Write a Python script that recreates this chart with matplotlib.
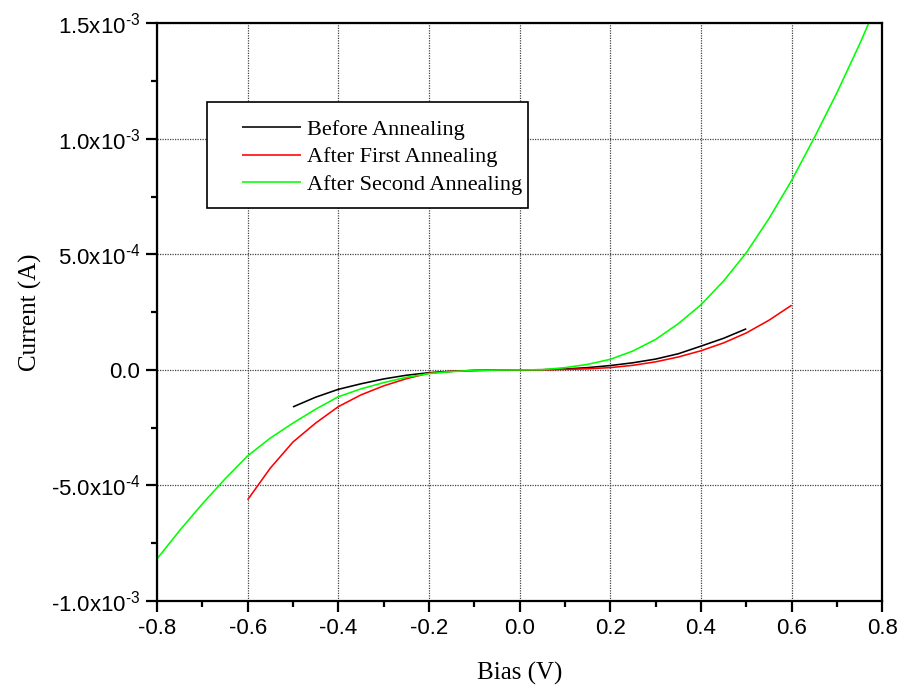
import matplotlib
matplotlib.use("Agg")
import matplotlib.pyplot as plt
from matplotlib.ticker import MultipleLocator
from matplotlib.legend_handler import HandlerLine2D
from matplotlib.patches import Rectangle

plt.rcParams['mathtext.fontset'] = 'custom'
plt.rcParams['mathtext.rm'] = 'Liberation Sans'
plt.rcParams['mathtext.it'] = 'Liberation Sans:italic'
plt.rcParams['mathtext.bf'] = 'Liberation Sans:bold'

# ---- data ----
bias_before = [-0.5, -0.45, -0.4, -0.35, -0.3, -0.25, -0.2, -0.15, -0.1, -0.05, 0.0,
               0.05, 0.1, 0.15, 0.2, 0.25, 0.3, 0.35, 0.4, 0.45, 0.5]
cur_before = [-1.60e-4, -1.18e-4, -8.4e-5, -6.0e-5, -3.9e-5, -2.3e-5, -1.2e-5, -6e-6, -2.5e-6, -5e-7, 0.0,
              1e-6, 4e-6, 1.0e-5, 1.9e-5, 3.1e-5, 4.7e-5, 7.0e-5, 1.03e-4, 1.37e-4, 1.78e-4]

bias_first = [-0.6, -0.55, -0.5, -0.45, -0.4, -0.35, -0.3, -0.25, -0.2, -0.15, -0.1, -0.05, 0.0,
              0.05, 0.1, 0.15, 0.2, 0.25, 0.3, 0.35, 0.4, 0.45, 0.5, 0.55, 0.6]
cur_first = [-5.62e-4, -4.25e-4, -3.12e-4, -2.30e-4, -1.59e-4, -1.08e-4, -6.9e-5, -3.8e-5, -1.4e-5, -6e-6, -2e-6, -3e-7, 0.0,
             5e-7, 2e-6, 5e-6, 1.0e-5, 2.0e-5, 3.5e-5, 5.6e-5, 8.3e-5, 1.17e-4, 1.60e-4, 2.15e-4, 2.80e-4]

bias_second = [-0.8, -0.75, -0.7, -0.65, -0.6, -0.55, -0.5, -0.45, -0.4, -0.35, -0.3, -0.25, -0.2,
               -0.15, -0.1, -0.05, 0.0, 0.05, 0.1, 0.15, 0.2, 0.25, 0.3, 0.35, 0.4, 0.45, 0.5,
               0.55, 0.6, 0.65, 0.7, 0.75, 0.77]
cur_second = [-8.18e-4, -6.95e-4, -5.80e-4, -4.72e-4, -3.72e-4, -2.95e-4, -2.30e-4, -1.70e-4, -1.16e-4,
              -8.2e-5, -5.5e-5, -3.2e-5, -1.6e-5, -7e-6, -2.5e-6, -4e-7, 0.0, 1e-6, 1.0e-5, 2.4e-5,
              4.6e-5, 8.2e-5, 1.32e-4, 2.00e-4, 2.82e-4, 3.85e-4, 5.07e-4, 6.55e-4, 8.20e-4,
              1.005e-3, 1.20e-3, 1.41e-3, 1.50e-3]

labels = ["Before Annealing", "After First Annealing", "After Second Annealing"]
colors = ["#000000", "#ff0000", "#00ff00"]

x_ticks = [-0.8, -0.6, -0.4, -0.2, 0.0, 0.2, 0.4, 0.6, 0.8]
y_ticks = [-1.0e-3, -5.0e-4, 0.0, 5.0e-4, 1.0e-3, 1.5e-3]
y_tick_labels = [r"-1.0x10$^{\text{-3}}$", r"-5.0x10$^{\text{-4}}$", "0.0", r"5.0x10$^{\text{-4}}$",
                 r"1.0x10$^{\text{-3}}$", r"1.5x10$^{\text{-3}}$"]

fig = plt.figure(figsize=(8.99, 6.86), dpi=100)
ax = fig.add_axes([0.1746, 0.1239, 0.8068, 0.8421])

for xs, ys, lab, c in zip([bias_before, bias_first, bias_second],
                          [cur_before, cur_first, cur_second], labels, colors):
    ax.plot(xs, ys, color=c, lw=1.15, label=lab, solid_capstyle='butt')

ax.set_xlim(-0.8, 0.8)
ax.set_ylim(-1.0e-3, 1.5e-3)
ax.set_xticks(x_ticks)
ax.set_xticklabels([f"{v:.1f}" for v in x_ticks])
ax.set_yticks(y_ticks)
ax.set_yticklabels(y_tick_labels)
ax.xaxis.set_minor_locator(MultipleLocator(0.1))
ax.yaxis.set_minor_locator(MultipleLocator(2.5e-4))

ax.tick_params(which='major', direction='out', length=8, width=1.6, top=False, right=False,
               labelsize=16, pad=4)
ax.tick_params(which='minor', direction='out', length=4.5, width=1.6, top=False, right=False)
for lbl in ax.get_xticklabels() + ax.get_yticklabels():
    lbl.set_fontfamily('Liberation Sans')

for s in ax.spines.values():
    s.set_linewidth(1.6)

ax.grid(True, which='major', linestyle=(0, (1, 1)), color='#444444', linewidth=0.9)
ax.set_axisbelow(True)

ax.set_xlabel("Bias (V)", fontsize=18, family='Liberation Serif')
ax.set_ylabel("Current (A)", fontsize=18, family='Liberation Serif')
ax.xaxis.set_label_coords(0.5, -0.106)
ax.yaxis.set_label_coords(-0.159, 0.5)

# legend frame drawn as a box, legend entries without frame
ax.add_patch(Rectangle((0.0689, 0.6803), 0.4426, 0.1840, transform=ax.transAxes,
                       facecolor='white', edgecolor='black', linewidth=1.2, zorder=4))
handler = HandlerLine2D(xpad=0.45)
leg = ax.legend(loc='upper left', bbox_to_anchor=(0.1034, 0.8343), borderaxespad=0,
                prop={'family': 'Liberation Serif', 'size': 16}, frameon=False,
                handlelength=3.1, handletextpad=0.27,
                borderpad=0.0, labelspacing=0.325,
                handler_map={plt.Line2D: handler})
leg.set_zorder(5)

fig.savefig("out.png", dpi=100)
